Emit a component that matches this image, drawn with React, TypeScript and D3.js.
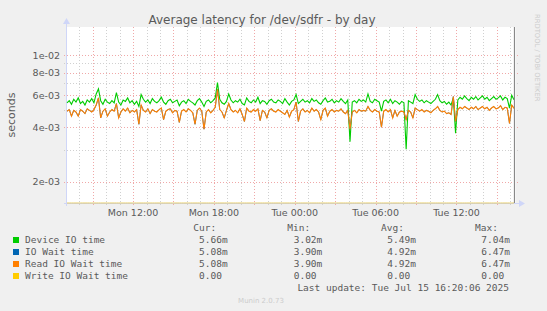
import React from "react";
import * as d3 from "d3";

// ---- data (values in seconds ×1e-3), 10‑minute samples from Mon 07:06 ----
const sampleStart = new Date(2025, 6, 14, 7, 6);
const sampleStepMinutes = 10;

const deviceIO = [
  5.45, 5.6, 5.35, 5.7, 5.5, 5.8, 5.4, 5.55, 5.3, 5.65,
  5.5, 5.75, 5.45, 6.1, 6.5, 5.6, 5.35, 5.7, 5.5, 5.4,
  5.6, 5.45, 6.2, 5.5, 5.3, 5.65, 5.55, 5.8, 5.45, 5.6,
  5.35, 5.55, 5.2, 6.05, 5.7, 5.5, 5.65, 5.4, 5.75, 5.55,
  5.45, 5.6, 5.85, 5.5, 5.35, 5.6, 5.7, 5.45, 5.55, 5.65,
  5.25, 5.5, 5.6, 5.4, 5.7, 5.55, 5.45, 5.3, 5.6, 5.75,
  5.5, 5.2, 5.55, 5.65, 5.45, 5.6, 5.8, 7.04, 5.7, 5.45,
  5.35, 5.55, 6.1, 5.65, 5.45, 5.6, 5.5, 5.7, 5.4, 5.3,
  5.8, 5.55, 5.45, 5.65, 5.5, 5.85, 5.4, 5.6, 5.55, 5.35,
  5.6, 5.7, 5.5, 5.45, 5.65, 5.55, 5.4, 5.75, 5.5, 5.3,
  5.55, 5.65, 6.05, 5.4, 5.55, 5.7, 5.5, 5.6, 5.45, 5.75,
  5.55, 5.65, 5.45, 5.35, 5.6, 5.8, 5.5, 5.55, 5.7, 5.45,
  5.6, 5.5, 5.75, 5.55, 5.4, 5.65, 3.33, 5.5, 5.6, 5.45,
  5.7, 5.55, 5.65, 5.5, 6.1, 5.55, 5.45, 5.7, 5.6, 5.5,
  4.9, 5.55, 5.65, 5.45, 5.7, 5.4, 5.6, 5.5, 5.35, 5.55,
  5.45, 3.02, 5.6, 5.5, 5.4, 6.05, 5.7, 5.55, 5.65, 5.45,
  5.6, 5.5, 5.4, 5.55, 5.7, 6.05, 5.6, 5.45, 5.55, 5.35,
  5.5, 5.3, 5.8, 3.7, 5.65, 5.85, 5.7, 5.95, 5.75, 5.6,
  5.85, 5.7, 5.9, 5.65, 5.8, 5.95, 5.7, 5.85, 5.6, 5.75,
  5.9, 5.7, 5.8, 5.95, 5.65, 5.85, 5.75, 5.1, 6.0, 5.66,
];

const ioWait = [
  4.9, 5.0, 4.6, 4.95, 4.85, 4.6, 5.0, 4.9, 4.75, 5.05,
  4.95, 4.85, 5.0, 5.3, 5.8, 4.5, 4.9, 5.05, 4.6, 4.85,
  5.0, 4.9, 5.4, 4.5, 4.85, 5.05, 4.9, 5.1, 4.8, 4.95,
  4.85, 5.0, 4.15, 5.3, 4.95, 4.85, 5.05, 4.75, 5.0, 4.9,
  4.85, 5.0, 5.1, 4.4, 4.9, 5.0, 5.05, 4.8, 4.95, 4.9,
  4.25, 4.9, 5.0, 4.85, 5.05, 4.95, 4.8, 4.15, 4.95, 5.1,
  4.9, 3.9, 4.85, 5.0, 4.8, 4.95, 5.15, 6.47, 5.0, 4.85,
  4.5, 4.95, 5.4, 5.0, 4.85, 4.95, 4.8, 5.05, 4.7, 4.3,
  5.1, 4.9, 4.85, 5.0, 4.9, 5.05, 4.35, 4.95, 4.85, 4.5,
  4.95, 5.05, 4.9, 4.85, 5.0, 4.9, 4.8, 4.7, 4.95, 4.55,
  4.9, 5.0, 5.5, 4.3, 4.9, 5.05, 4.85, 4.95, 4.8, 5.1,
  4.9, 5.0, 4.85, 4.4, 4.95, 5.1, 4.6, 4.9, 5.0, 4.85,
  4.95, 4.9, 5.05, 4.85, 4.75, 4.95, 3.9, 4.85, 4.95, 4.8,
  5.0, 4.9, 4.95, 4.9, 5.2, 4.95, 4.85, 5.0, 4.9, 4.85,
  4.0, 4.9, 5.0, 4.85, 5.0, 4.5, 4.95, 4.6, 4.85, 4.9,
  4.85, 4.4, 4.95, 4.85, 4.5, 5.1, 5.0, 4.9, 5.0, 4.85,
  4.95, 4.9, 4.8, 4.95, 5.05, 5.2, 4.95, 4.85, 4.9, 4.75,
  4.8, 4.7, 5.9, 4.3, 5.0, 5.15, 5.05, 5.2, 5.1, 5.0,
  5.15, 5.05, 5.2, 5.0, 5.1, 5.2, 5.05, 5.15, 4.95, 5.1,
  5.2, 5.05, 5.1, 5.25, 5.0, 5.15, 5.1, 4.2, 5.3, 5.08,
];

const readWait = ioWait;
const writeWaitLevel = 0;

const majorTicks = [2e-3, 4e-3, 6e-3, 8e-3, 1e-2];
const majorTickLabels = ["2e-03", "4e-03", "6e-03", "8e-03", "1e-02"];
const minorTicks = [3e-3, 5e-3, 7e-3, 9e-3];

const legendNames = ["Device IO time", "IO Wait time", "Read IO Wait time", "Write IO Wait time"];
const legendColors = ["#00cc00", "#0066b3", "#ff8000", "#ffcc00"];
const curValues = ["5.66m", "5.08m", "5.08m", "0.00"];
const minValues = ["3.02m", "3.90m", "3.90m", "0.00"];
const avgValues = ["5.49m", "4.92m", "4.92m", "0.00"];
const maxValues = ["7.04m", "6.47m", "6.47m", "0.00"];

const W = 547;
const H = 311;
const PL = 67, PR = 516, PT = 27, PB = 203;

export default function App() {
  const x = d3
    .scaleTime()
    .domain([new Date(2025, 6, 14, 7, 6), new Date(2025, 6, 15, 16, 25)])
    .range([PL, PR]);
  const y = d3.scaleLog().domain([0.001527, 0.014272]).range([PB, PT]);

  const times = deviceIO.map(
    (_, i) => new Date(sampleStart.getTime() + i * sampleStepMinutes * 60000)
  );
  const yv = (v: number) => (v <= 0 ? PB : y(v * 1e-3));
  const line = d3
    .line<number>()
    .x((_, i) => x(times[i]))
    .y((v) => yv(v));

  const hours = d3.timeHour.range(x.domain()[0], x.domain()[1]);
  const fmt = d3.timeFormat("%a %H:%M");
  const font = "DejaVu Sans, sans-serif";
  const mono = "DejaVu Sans Mono, monospace";
  const fc = "#5a5a5a";

  const colX = [199, 293.7, 387.3, 481.3];
  const headX = [193.3, 287.3, 381, 475];
  const heads = ["Cur:", "Min:", "Avg:", "Max:"];
  const cols = [curValues, minValues, avgValues, maxValues];

  const writeLine = d3
    .line<Date>()
    .x((t) => x(t))
    .y(() => yv(writeWaitLevel));

  return (
    <div style={{ position: "fixed", left: 0, top: 0 }}>
      <svg width={W} height={H} style={{ display: "block" }}>
        <rect x={0} y={0} width={W} height={H} fill="#f0f0f0" />
        <rect x={PL} y={PT} width={PR - PL} height={PB - PT} fill="#ffffff" />

        {/* minor horizontal grid */}
        {minorTicks.map((t) => (
          <line key={"mh" + t} x1={PL - 3} x2={PR + 3} y1={Math.round(y(t)) + 0.5} y2={Math.round(y(t)) + 0.5}
            stroke="#d0d0d0" strokeDasharray="1,2" />
        ))}
        {/* hourly vertical grid */}
        {hours.map((h) => {
          const major = h.getHours() % 3 === 0;
          const xx = Math.round(x(h)) + 0.5;
          return (
            <line key={"v" + h.getTime()} x1={xx} x2={xx} y1={PT} y2={PB + (major ? 3 : 2)}
              stroke={major ? "#f0a8a8" : "#d0d0d0"} strokeDasharray="1,2" />
          );
        })}
        {/* major horizontal grid */}
        {majorTicks.map((t) => (
          <line key={"Mh" + t} x1={PL - 3} x2={PR + 3} y1={Math.round(y(t)) + 0.5} y2={Math.round(y(t)) + 0.5}
            stroke="#f0a8a8" strokeDasharray="1,2" />
        ))}

        {/* axes */}
        <line x1={PL - 0.5} x2={PL - 0.5} y1={PB + 3} y2={PT - 4} stroke="#cfd6f8" />
        <path d={`M${PL - 4},${PT - 3} L${PL + 3},${PT - 3} L${PL - 0.5},${PT - 9} Z`} fill="#cfd6f8" />
        <line x1={PL - 3} x2={PR + 4} y1={PB + 0.5} y2={PB + 0.5} stroke="#cfd6f8" />
        <path d={`M${PR + 3},${PB - 3} L${PR + 3},${PB + 4} L${PR + 9},${PB + 0.5} Z`} fill="#cfd6f8" />

        {/* series */}
        <path d={line(deviceIO) || ""} fill="none" stroke="#00cc00" strokeWidth={1.1} />
        <path d={line(ioWait) || ""} fill="none" stroke="#0066b3" strokeWidth={0.8} />
        <path d={line(readWait) || ""} fill="none" stroke="#ff8000" strokeWidth={1.1} />
        <path d={writeLine(times) || ""} fill="none" stroke="#e6cc66" strokeWidth={1} />

        {/* end marker */}
        <line x1={x(times[times.length - 1]) + 0.5} x2={x(times[times.length - 1]) + 0.5} y1={PT} y2={PB}
          stroke="#888" strokeWidth={1.2} />

        {/* y tick labels */}
        {majorTicks.map((t, i) => (
          <text key={"yl" + t} x={60} y={y(t) + 3.5} textAnchor="end" fontFamily={font} fontSize={9.5} fill={fc}>
            {majorTickLabels[i]}
          </text>
        ))}
        {/* x tick labels */}
        {hours.filter((h) => h.getHours() % 6 === 0).map((h) => (
          <text key={"xl" + h.getTime()} x={x(h)} y={216} textAnchor="middle" fontFamily={font} fontSize={9.5} fill={fc}>
            {fmt(h)}
          </text>
        ))}

        {/* title */}
        <text x={262} y={24.3} textAnchor="middle" fontFamily={font} fontSize={12} fill={fc}>
          Average latency for /dev/sdfr - by day
        </text>
        {/* y axis title */}
        <text transform="translate(15,115) rotate(-90)" textAnchor="middle" fontFamily={font} fontSize={11} fill={fc}>
          seconds
        </text>
        {/* watermark */}
        <text transform="translate(535,14) rotate(90)" textAnchor="start" fontFamily={font} fontSize={6.8} fill="#cccccc">
          RRDTOOL / TOBI OETIKER
        </text>

        {/* legend */}
        {heads.map((h, i) => (
          <text key={"h" + h} x={headX[i]} y={230.5} fontFamily={mono} fontSize={9.5} fill={fc}>
            {h}
          </text>
        ))}
        {legendNames.map((n, r) => (
          <g key={n}>
            <rect x={13} y={237 + r * 12} width={6} height={6} fill={legendColors[r]} />
            <text x={25} y={242.5 + r * 12} fontFamily={mono} fontSize={9.5} fill={fc}>
              {n}
            </text>
            {cols.map((c, ci) => (
              <text key={ci} x={colX[ci]} y={242.5 + r * 12} fontFamily={mono} fontSize={9.5} fill={fc}>
                {c[r]}
              </text>
            ))}
          </g>
        ))}
        <text x={509} y={290.5} textAnchor="end" fontFamily={mono} fontSize={9.5} fill={fc}>
          Last update: Tue Jul 15 16:20:06 2025
        </text>
        <text x={261} y={303} textAnchor="middle" fontFamily={font} fontSize={7} fill="#cccccc">
          Munin 2.0.73
        </text>
      </svg>
    </div>
  );
}
